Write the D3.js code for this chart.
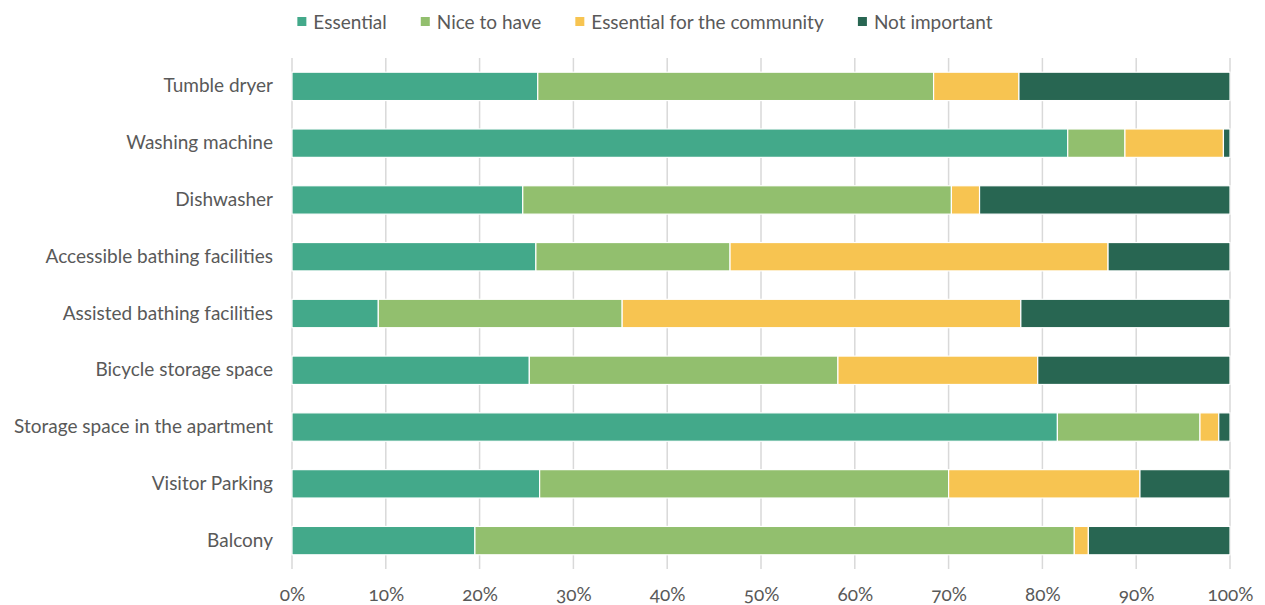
<!DOCTYPE html>
<html>
<head>
<meta charset="utf-8">
<script src="https://cdn.jsdelivr.net/npm/d3@7"></script>
<style>
  body { margin: 0; background: #fff; }
  svg text { font-family: Lato, "Open Sans", sans-serif; fill: #595959; font-feature-settings: "onum"; }
</style>
</head>
<body>
<div id="chart"></div>
<script>
const width = 1265, height = 605;
const margin = {top: 58, right: 35, bottom: 36, left: 292};

const categories = [
  "Tumble dryer", "Washing machine", "Dishwasher", "Accessible bathing facilities",
  "Assisted bathing facilities", "Bicycle storage space", "Storage space in the apartment",
  "Visitor Parking", "Balcony"
];
const seriesNames = ["Essential", "Nice to have", "Essential for the community", "Not important"];
const colors = ["#43a98a", "#92bf6e", "#f7c451", "#286652"];

// percent per category, in series order
const essential  = [26.2, 82.7, 24.6, 26.0,  9.2, 25.3, 81.6, 26.4, 19.5];
const niceToHave = [42.2,  6.1, 45.7, 20.7, 26.0, 32.9, 15.2, 43.6, 63.9];
const community  = [ 9.1, 10.5,  3.0, 40.3, 42.5, 21.3,  2.0, 20.4,  1.5];
const notImportant = [22.5, 0.7, 26.7, 13.0, 22.3, 20.5, 1.2,  9.6, 15.1];
const tickValues = [0, 10, 20, 30, 40, 50, 60, 70, 80, 90, 100];

const rows = categories.map(function(c, i) {
  const total = essential[i] + niceToHave[i] + community[i] + notImportant[i];
  return {
    category: c,
    "Essential": essential[i] / total * 100,
    "Nice to have": niceToHave[i] / total * 100,
    "Essential for the community": community[i] / total * 100,
    "Not important": notImportant[i] / total * 100
  };
});

const stacked = d3.stack().keys(seriesNames)(rows);

const x = d3.scaleLinear([0, 100], [margin.left, width - margin.right]);
const y = d3.scaleBand(categories, [margin.top, height - margin.bottom])
    .paddingInner(0.5).paddingOuter(0.25);
const color = d3.scaleOrdinal(seriesNames, colors);

const fontSize = 19;

const svg = d3.select("#chart").append("svg")
    .attr("width", width)
    .attr("height", height);

// gridlines
svg.append("g")
    .selectAll("line")
    .data(tickValues)
    .join("line")
    .attr("x1", function(d) { return x(d); })
    .attr("x2", function(d) { return x(d); })
    .attr("y1", margin.top)
    .attr("y2", height - margin.bottom)
    .attr("stroke", "#d9d9d9")
    .attr("stroke-width", 1.5);

// bars
svg.append("g")
    .selectAll("g")
    .data(stacked)
    .join("g")
    .attr("fill", function(d) { return color(d.key); })
    .selectAll("rect")
    .data(function(d) { return d; })
    .join("rect")
    .attr("x", function(d) { return x(d[0]); })
    .attr("width", function(d) { return x(d[1]) - x(d[0]); })
    .attr("y", function(d) { return y(d.data.category); })
    .attr("height", y.bandwidth())
    .attr("stroke", "#fff")
    .attr("stroke-width", 1.2);

// x axis labels
const xAxis = svg.append("g")
    .attr("transform", `translate(0,${height - margin.bottom})`)
    .call(d3.axisBottom(x).tickValues(tickValues).tickSize(0).tickPadding(19)
      .tickFormat(function(d) { return d + "%"; }));
xAxis.select(".domain").remove();
xAxis.selectAll("text").attr("font-size", fontSize).attr("fill", "#595959")
    .style("font-family", "Lato, 'Open Sans', sans-serif");

// y labels
const yAxis = svg.append("g")
    .attr("transform", `translate(${margin.left},0)`)
    .call(d3.axisLeft(y).tickSize(0).tickPadding(19));
yAxis.select(".domain").remove();
yAxis.selectAll("text").attr("font-size", fontSize).attr("fill", "#595959")
    .style("font-family", "Lato, 'Open Sans', sans-serif");

// legend
const legend = svg.append("g").attr("transform", "translate(0,22)");
const items = legend.selectAll("g")
    .data(seriesNames)
    .join("g");
items.append("rect")
    .attr("width", 9).attr("height", 9)
    .attr("y", -5)
    .attr("fill", function(d) { return color(d); });
items.append("text")
    .attr("x", 16)
    .attr("dy", "0.35em")
    .attr("font-size", fontSize)
    .text(function(d) { return d; });
let pos = 0;
const gap = 34;
const offsets = [];
items.each(function() {
  offsets.push(pos);
  pos += this.getBBox().width + gap;
});
pos -= gap;
const start = 645 - pos / 2;
items.attr("transform", function(d, i) { return `translate(${start + offsets[i]},0)`; });
</script>
</body>
</html>
